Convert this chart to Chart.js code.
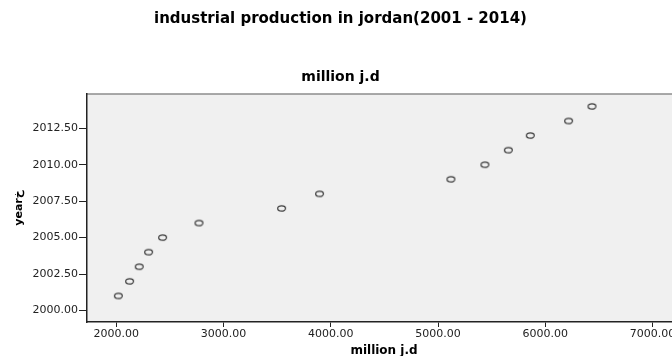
<!DOCTYPE html>
<html>
<head>
<meta charset="utf-8">
<script src="https://cdn.jsdelivr.net/npm/chart.js@4.4.0/dist/chart.umd.min.js"></script>
<style>
  html, body { margin: 0; padding: 0; background: #fff; overflow: hidden; }
  #wrap { width: 672px; height: 356px; overflow: hidden; }
</style>
</head>
<body>
<div id="wrap"><canvas id="scatterChart" width="690" height="356"></canvas></div>
<script>
const years = [2001, 2002, 2003, 2004, 2005, 2006, 2007, 2008, 2009, 2010, 2011, 2012, 2013, 2014];
const production = [2019, 2124, 2214, 2301, 2432, 2771, 3541, 3895, 5120, 5437, 5655, 5860, 6217, 6435];
const xTicks = [2000, 3000, 4000, 5000, 6000, 7000];
const yTicks = [2000, 2002.5, 2005, 2007.5, 2010, 2012.5];

// small open ellipse used as the marker (the picture is a bit stretched sideways)
function makeMarker() {
    const c = document.createElement('canvas');
    c.width = 11;
    c.height = 9;
    const g = c.getContext('2d');
    g.strokeStyle = '#3a3a3a';
    g.lineWidth = 1.2;
    g.beginPath();
    g.ellipse(5.5, 4.5, 3.9, 2.7, 0, 0, Math.PI * 2);
    g.stroke();
    return c;
}

const plotBackground = {
    id: 'plotBackground',
    beforeDraw(chart) {
        const {ctx, chartArea: {left, top, right, bottom}} = chart;
        ctx.save();
        ctx.fillStyle = '#f0f0f0';
        ctx.fillRect(left, top, right - left, bottom - top);
        ctx.strokeStyle = '#8c8c8c';
        ctx.lineWidth = 1.5;
        ctx.beginPath();
        ctx.moveTo(left, top);
        ctx.lineTo(right, top);
        ctx.stroke();
        ctx.restore();
    }
};

function createChart() {
    const ctx = document.getElementById('scatterChart');
    new Chart(ctx, {
        type: 'scatter',
        data: {
            datasets: [{
                label: 'year',
                data: production.map((v, i) => ({x: v, y: years[i]})),
                pointStyle: makeMarker(),
                pointRadius: 4,
                pointHoverRadius: 4
            }]
        },
        options: {
            responsive: false,
            animation: false,
            devicePixelRatio: 1,
            layout: {
                padding: {left: 0, right: 9, top: 0, bottom: 0}
            },
            scales: {
                x: {
                    type: 'linear',
                    position: 'bottom',
                    min: 1727,
                    max: 7265,
                    afterBuildTicks: scale => {
                        scale.ticks = xTicks.map(v => ({value: v}));
                    },
                    afterFit: scale => {
                        scale.height = 34;
                    },
                    ticks: {
                        autoSkip: false,
                        maxRotation: 0,
                        padding: 1,
                        color: '#222',
                        font: {family: 'DejaVu Sans', size: 11},
                        callback: v => Number(v).toFixed(2)
                    },
                    grid: {
                        drawOnChartArea: false,
                        tickLength: 5,
                        tickColor: '#222'
                    },
                    border: {color: '#222', width: 1.5},
                    title: {
                        display: true,
                        text: 'million j.d',
                        color: '#000',
                        font: {family: 'DejaVu Sans', size: 12, weight: 'bold'},
                        padding: {top: 0, bottom: -2}
                    }
                },
                y: {
                    type: 'linear',
                    min: 1999.21,
                    max: 2014.85,
                    afterBuildTicks: scale => {
                        scale.ticks = yTicks.map(v => ({value: v}));
                    },
                    afterFit: scale => {
                        scale.width = 87;
                    },
                    ticks: {
                        autoSkip: false,
                        padding: 1,
                        color: '#222',
                        font: {family: 'DejaVu Sans', size: 11},
                        callback: v => Number(v).toFixed(2)
                    },
                    grid: {
                        drawOnChartArea: false,
                        tickLength: 8,
                        tickColor: '#222'
                    },
                    border: {color: '#222', width: 1.5},
                    title: {
                        display: true,
                        text: 'yearخ',
                        color: '#000',
                        font: {family: 'DejaVu Sans', size: 11, weight: 'bold'},
                        padding: {top: 13, bottom: 0}
                    }
                }
            },
            plugins: {
                legend: {display: false},
                tooltip: {enabled: false},
                title: {
                    display: true,
                    text: 'industrial production in jordan(2001 - 2014)',
                    color: '#000',
                    font: {family: 'DejaVu Sans', size: 15, weight: 'bold'},
                    padding: {top: 10, bottom: 0}
                },
                subtitle: {
                    display: true,
                    text: 'million j.d',
                    color: '#000',
                    font: {family: 'DejaVu Sans', size: 14, weight: 'bold'},
                    padding: {top: 40.6, bottom: 8.6}
                }
            }
        },
        plugins: [plotBackground]
    });
}
createChart();
</script>
</body>
</html>
